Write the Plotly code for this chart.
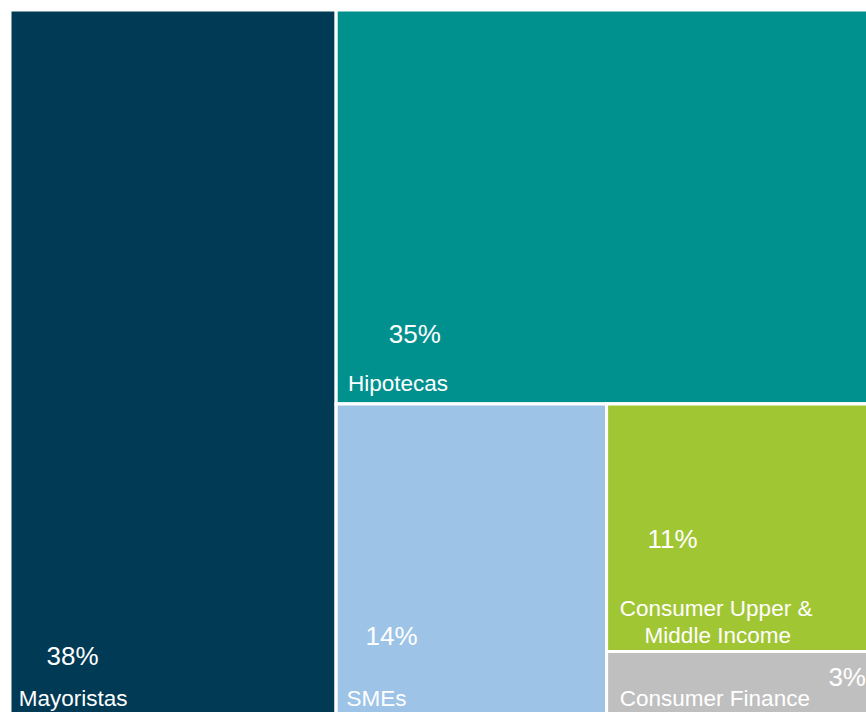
import plotly.graph_objects as go

# ---- data ----
categories = ["Mayoristas", "Hipotecas", "SMEs", "Consumer Upper &<br>Middle Income", "Consumer Finance"]
shares = [38, 35, 14, 11, 3]
colors = ["#003A55", "#00918F", "#9DC3E6", "#A1C633", "#BFBFBF"]

# hierarchy used for the layout: Mayoristas | (Hipotecas / (SMEs | (Consumer Upper / Consumer Finance)))
leaf_ids = ["may", "hip", "sme", "cu", "cf"]
leaf_parents = ["root", "g1", "g2", "g3", "g3"]
group_ids = ["root", "g1", "g2", "g3"]
group_parents = ["", "root", "g1", "g2"]

# ---- label styling (positions/sizes kept separate from data) ----
BASE = 5.25            # base font size -> line step = 1.3*BASE
PCT_SIZE = 26
LAB_SIZE = 22.5
NBSP_W = 0.2778 * BASE
label_indent = {"may": 6, "hip": 9, "sme": 8, "cu": [10, 35], "cf": 10}
pct_indent = {"may": 34, "hip": 50, "sme": 26, "cu": 38, "cf": 219}
gap_lines = {"may": 6, "hip": 7, "sme": 9, "cu": 10, "cf": 3}
bottom_spacer = {"may": 16, "hip": 16, "sme": 16, "cu": 0, "cf": 16}


def pad(px):
    return "\u00a0" * max(0, int(round(px / NBSP_W)))


def leaf_text(lid, pct, label):
    lines = [pad(pct_indent[lid]) + f"<span style='font-size:{PCT_SIZE}px'>{pct}%</span>"]
    lines += ["\u00a0"] * (gap_lines[lid] - 1)
    parts = label.split("<br>")
    ind = label_indent[lid]
    if not isinstance(ind, list):
        ind = [ind] * len(parts)
    for k, p in enumerate(parts):
        if k > 0:
            lines += ["\u00a0"] * 3
        lines.append(pad(ind[k]) + f"<span style='font-size:{LAB_SIZE}px'>{p}</span>")
    if bottom_spacer[lid]:
        lines.append(f"<span style='font-size:{bottom_spacer[lid]}px'>\u00a0</span>")
    return "<br>".join(lines)


order = ["root", "may", "g1", "hip", "g2", "sme", "g3", "cu", "cf"]
parent_of = dict(zip(group_ids + leaf_ids, group_parents + leaf_parents))
leaf_index = {lid: i for i, lid in enumerate(leaf_ids)}

ids, parents, values, texts, mcolors, labels = [], [], [], [], [], []
for nid in order:
    ids.append(nid)
    parents.append(parent_of[nid])
    if nid in leaf_index:
        i = leaf_index[nid]
        values.append(shares[i])
        texts.append(leaf_text(nid, shares[i], categories[i]))
        mcolors.append(colors[i])
        labels.append(categories[i].replace("<br>", " "))
    else:
        values.append(0)
        texts.append("")
        mcolors.append("#FFFFFF")
        labels.append(nid)

fig = go.Figure(go.Treemap(
    ids=ids,
    labels=labels,
    parents=parents,
    values=values,
    branchvalues="remainder",
    sort=False,
    text=texts,
    textinfo="text",
    textposition="bottom left",
    textfont=dict(family="Liberation Sans, Arial, sans-serif", size=BASE, color="white"),
    marker=dict(colors=mcolors, line=dict(color="white", width=3),
                pad=dict(t=0, l=0, r=0, b=0)),
    tiling=dict(packing="slice-dice", pad=0),
    pathbar=dict(visible=False),
    hoverinfo="skip",
))

fig.update_layout(
    width=877, height=719,
    margin=dict(l=10, t=10, r=0, b=0),
    paper_bgcolor="white",
    showlegend=False,
)

fig.write_html(
    "out.html",
    config={"displayModeBar": False},
    post_script="document.body.style.margin='0';",
)
